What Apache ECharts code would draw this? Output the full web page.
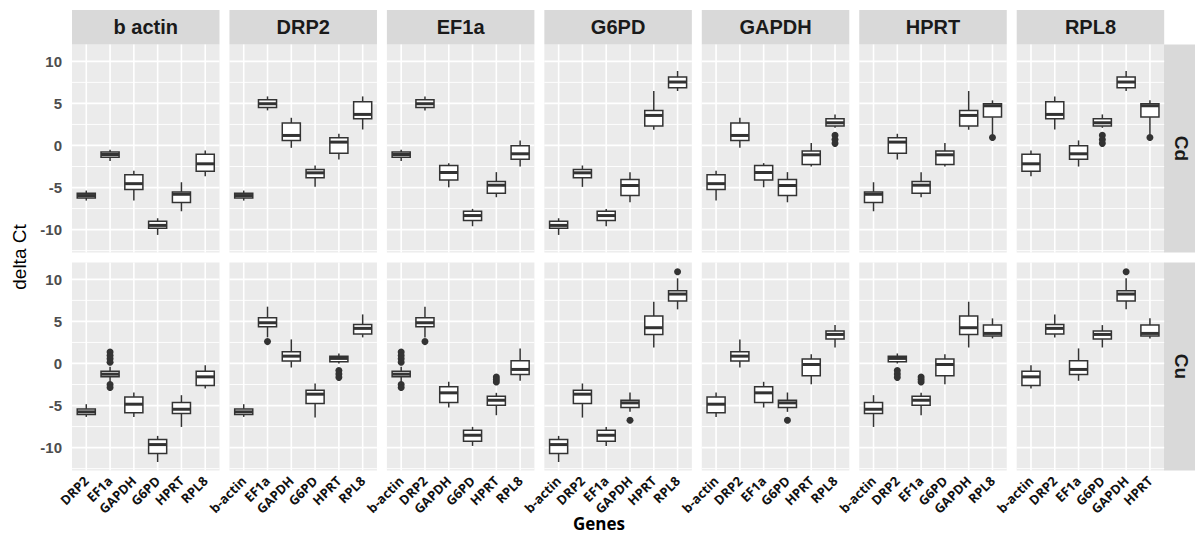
<!DOCTYPE html>
<html>
<head>
<meta charset="utf-8">
<script src="https://cdn.jsdelivr.net/npm/echarts@6/dist/echarts.min.js"></script>
<style>
  html, body { margin: 0; padding: 0; background: #fff; }
  #chart { width: 1195px; height: 533px; }
</style>
</head>
<body>
<div id="chart"></div>
<script>
// Facet titles (columns = reference gene, rows = treatment)
const panelTitles = ['b actin', 'DRP2', 'EF1a', 'G6PD', 'GAPDH', 'HPRT', 'RPL8'];
const rowTitles = ['Cd', 'Cu'];

// Genes on the x axis of each column
const xCategories = [
  ['DRP2', 'EF1a', 'GAPDH', 'G6PD', 'HPRT', 'RPL8'],
  ['b-actin', 'EF1a', 'GAPDH', 'G6PD', 'HPRT', 'RPL8'],
  ['b-actin', 'DRP2', 'GAPDH', 'G6PD', 'HPRT', 'RPL8'],
  ['b-actin', 'DRP2', 'EF1a', 'GAPDH', 'HPRT', 'RPL8'],
  ['b-actin', 'DRP2', 'EF1a', 'G6PD', 'HPRT', 'RPL8'],
  ['b-actin', 'DRP2', 'EF1a', 'G6PD', 'GAPDH', 'RPL8'],
  ['b-actin', 'DRP2', 'EF1a', 'G6PD', 'GAPDH', 'HPRT']
];

// Box statistics per column: [lower whisker, Q1, median, Q3, upper whisker]
const cdBoxes = [
  [[-6.55, -6.23, -5.95, -5.67, -5.36], [-1.85, -1.39, -1.07, -0.79, -0.5], [-6.55, -5.22, -4.54, -3.47, -3.0],
   [-10.63, -9.84, -9.5, -9.0, -8.65], [-7.82, -6.79, -5.8, -5.52, -4.37], [-3.65, -3.06, -2.18, -1.03, -0.6]],
  [[-6.55, -6.23, -5.95, -5.67, -5.36], [4.17, 4.5, 4.96, 5.44, 5.83], [-0.28, 0.6, 1.19, 2.66, 3.29],
   [-4.92, -3.85, -3.25, -2.86, -2.38], [-1.67, -0.91, 0.4, 0.91, 1.39], [1.9, 3.17, 3.69, 5.2, 5.83]],
  [[-1.85, -1.39, -1.07, -0.79, -0.5], [4.17, 4.5, 4.96, 5.44, 5.83], [-4.96, -4.09, -3.21, -2.38, -2.1],
   [-9.6, -8.93, -8.33, -7.82, -7.54], [-6.15, -5.67, -4.72, -4.29, -3.17], [-2.5, -1.63, -0.99, -0.04, 0.6]],
  [[-10.63, -9.84, -9.5, -9.0, -8.65], [-4.92, -3.85, -3.25, -2.86, -2.38], [-9.6, -8.93, -8.33, -7.82, -7.54],
   [-6.75, -5.95, -4.76, -4.05, -3.17], [1.87, 2.3, 3.57, 4.17, 6.47], [6.47, 6.87, 7.54, 8.13, 8.85]],
  [[-6.55, -5.22, -4.54, -3.47, -3.0], [-0.28, 0.6, 1.19, 2.66, 3.29], [-4.96, -4.09, -3.21, -2.38, -2.1],
   [-6.75, -5.95, -4.76, -4.05, -3.17], [-2.5, -2.26, -1.11, -0.67, 0.28], [2.1, 2.3, 2.7, 3.17, 3.69]],
  [[-7.82, -6.79, -5.8, -5.52, -4.37], [-1.67, -0.91, 0.4, 0.91, 1.39], [-6.15, -5.67, -4.72, -4.29, -3.17],
   [-2.5, -2.26, -1.11, -0.67, 0.28], [1.87, 2.3, 3.57, 4.17, 6.47], [1.15, 3.37, 4.72, 4.96, 5.36]],
  [[-3.65, -3.06, -2.18, -1.03, -0.6], [1.9, 3.17, 3.69, 5.2, 5.83], [-2.5, -1.63, -0.99, -0.04, 0.6],
   [2.1, 2.3, 2.7, 3.17, 3.69], [6.47, 6.87, 7.54, 8.13, 8.85], [1.15, 3.37, 4.72, 4.96, 5.36]]
];

const cuBoxes = [
  [[-6.35, -6.07, -5.75, -5.4, -4.84], [-2.2, -1.59, -1.27, -0.91, -0.4], [-6.35, -5.87, -4.84, -3.97, -3.45],
   [-11.71, -10.71, -9.64, -9.05, -8.61], [-7.54, -5.95, -5.44, -4.64, -3.77], [-2.98, -2.62, -1.59, -0.91, -0.2]],
  [[-6.35, -6.07, -5.75, -5.4, -4.84], [3.1, 4.37, 4.84, 5.44, 6.75], [-0.48, 0.28, 0.87, 1.39, 2.86],
   [-6.43, -4.76, -3.65, -3.17, -2.38], [0.0, 0.2, 0.6, 0.87, 1.19], [3.1, 3.49, 4.17, 4.64, 5.83]],
  [[-2.2, -1.59, -1.27, -0.91, -0.4], [3.1, 4.37, 4.84, 5.44, 6.75], [-5.24, -4.64, -3.49, -2.78, -2.18],
   [-9.8, -9.25, -8.53, -7.94, -7.54], [-6.15, -4.96, -4.37, -3.89, -3.49], [-2.06, -1.31, -0.71, 0.32, 1.79]],
  [[-11.71, -10.71, -9.64, -9.05, -8.61], [-6.43, -4.76, -3.65, -3.17, -2.38], [-9.8, -9.25, -8.53, -7.94, -7.54],
   [-5.75, -5.24, -4.68, -4.37, -3.45], [1.9, 3.45, 4.25, 5.63, 7.34], [6.43, 7.42, 8.25, 8.65, 10.12]],
  [[-6.35, -5.87, -4.84, -3.97, -3.45], [-0.48, 0.28, 0.87, 1.39, 2.86], [-5.24, -4.64, -3.49, -2.78, -2.18],
   [-5.75, -5.24, -4.68, -4.37, -3.45], [-2.46, -1.47, -0.12, 0.52, 1.11], [1.9, 2.9, 3.45, 3.85, 4.56]],
  [[-7.54, -5.95, -5.44, -4.64, -3.77], [0.0, 0.2, 0.6, 0.87, 1.19], [-6.15, -4.96, -4.37, -3.89, -3.49],
   [-2.46, -1.47, -0.12, 0.52, 1.11], [1.9, 3.45, 4.25, 5.63, 7.34], [2.98, 3.25, 3.57, 4.56, 5.36]],
  [[-2.98, -2.62, -1.59, -0.91, -0.2], [3.1, 3.49, 4.17, 4.64, 5.83], [-2.06, -1.31, -0.71, 0.32, 1.79],
   [1.9, 2.9, 3.45, 3.85, 4.56], [6.43, 7.42, 8.25, 8.65, 10.12], [2.98, 3.25, 3.57, 4.56, 5.36]]
];

// Outlying points per column: [category index, value]
const cdOutliers = [
  [],
  [],
  [],
  [],
  [[5, 1.2], [5, 0.7], [5, 0.25]],
  [[5, 0.95]],
  [[3, 1.2], [3, 0.7], [3, 0.25], [5, 0.95]]
];
const cuOutliers = [
  [[1, 1.35], [1, 0.95], [1, 0.55], [1, 0.15], [1, -2.5], [1, -2.85]],
  [[1, 2.6], [4, -0.85], [4, -1.25], [4, -1.65]],
  [[0, 1.35], [0, 0.95], [0, 0.55], [0, 0.15], [0, -2.5], [0, -2.85], [1, 2.6], [4, -1.6], [4, -1.9], [4, -2.2]],
  [[3, -6.75], [5, 10.91]],
  [[3, -6.75]],
  [[1, -0.85], [1, -1.25], [1, -1.65], [2, -1.6], [2, -1.9], [2, -2.2]],
  [[4, 10.91]]
];

// y scale shared by all panels
const yRange = [-12.72, 12];
const yMajorTicks = [-10, -5, 0, 5, 10];
const yMinorTicks = [-12.5, -7.5, -2.5, 2.5, 7.5];

// Panel layout (px)
const PANEL_LEFT = 72, PANEL_STEP = 157.45, PANEL_W = 147.5, PANEL_H = 208;
const ROW_TOPS = [44.5, 262.5];
const STRIP_TOP = 10, STRIP_H = 34.5;
const RIGHT_STRIP_X = 1164;

const INK = '#333333';
const BG = '#ebebeb';
const STRIP_BG = '#d9d9d9';

const chart = echarts.init(document.getElementById('chart'), null, { renderer: 'svg' });

const grids = [], xAxes = [], yAxes = [], series = [];

function makeGridRenderer(nCats) {
  return function (params, api) {
    const cs = params.coordSys;
    const x0 = cs.x, x1 = cs.x + cs.width, y0 = cs.y, y1 = cs.y + cs.height;
    const children = [];
    yMinorTicks.forEach(function (v) {
      const y = api.coord([0, v])[1];
      children.push({ type: 'line', shape: { x1: x0, y1: y, x2: x1, y2: y }, style: { stroke: '#fff', lineWidth: 0.9 } });
    });
    yMajorTicks.forEach(function (v) {
      const y = api.coord([0, v])[1];
      children.push({ type: 'line', shape: { x1: x0, y1: y, x2: x1, y2: y }, style: { stroke: '#fff', lineWidth: 1.8 } });
    });
    for (let i = 0; i < nCats; i++) {
      const x = api.coord([i, 0])[0];
      children.push({ type: 'line', shape: { x1: x, y1: y0, x2: x, y2: y1 }, style: { stroke: '#fff', lineWidth: 1.6 } });
    }
    return { type: 'group', children: children };
  };
}

function renderBox(params, api) {
  const x = api.value(0);
  const lo = api.coord([x, api.value(1)]);
  const q1 = api.coord([x, api.value(2)]);
  const md = api.coord([x, api.value(3)]);
  const q3 = api.coord([x, api.value(4)]);
  const hi = api.coord([x, api.value(5)]);
  const half = api.size([0.76, 0])[0] / 2;
  const line = { stroke: INK, lineWidth: 1.5 };
  return {
    type: 'group',
    children: [
      { type: 'line', shape: { x1: hi[0], y1: hi[1], x2: q3[0], y2: q3[1] }, style: line },
      { type: 'line', shape: { x1: q1[0], y1: q1[1], x2: lo[0], y2: lo[1] }, style: line },
      { type: 'rect', shape: { x: q3[0] - half, y: q3[1], width: half * 2, height: q1[1] - q3[1] },
        style: { fill: '#fff', stroke: INK, lineWidth: 1.5 } },
      { type: 'line', shape: { x1: md[0] - half, y1: md[1], x2: md[0] + half, y2: md[1] },
        style: { stroke: INK, lineWidth: 3 } }
    ]
  };
}

const graphics = [];

rowTitles.forEach(function (rowName, r) {
  const boxes = r === 0 ? cdBoxes : cuBoxes;
  const outliers = r === 0 ? cdOutliers : cuOutliers;
  panelTitles.forEach(function (title, c) {
    const k = grids.length;
    const cats = xCategories[c];
    grids.push({
      left: PANEL_LEFT + c * PANEL_STEP, top: ROW_TOPS[r], width: PANEL_W, height: PANEL_H,
      show: true, backgroundColor: BG, borderWidth: 0, containLabel: false, outerBoundsMode: 'none'
    });
    xAxes.push({
      type: 'value', gridIndex: k, min: -0.6, max: cats.length - 0.4, splitNumber: 6,
      axisLine: { show: false }, axisTick: { show: false }, splitLine: { show: false },
      axisLabel: {
        show: r === 1, rotate: 45, margin: 8, padding: [9, 0, 0, 0],
        fontFamily: 'Open Sans', fontWeight: 'bold', fontSize: 13, color: '#111',
        showMinLabel: false, showMaxLabel: false,
        formatter: function (v) {
          const i = Math.round(v);
          return Math.abs(v - i) < 1e-6 && i >= 0 && i < cats.length ? cats[i] : '';
        }
      }
    });
    yAxes.push({
      type: 'value', gridIndex: k, min: yRange[0], max: yRange[1], splitNumber: 5,
      axisLine: { show: false }, axisTick: { show: false }, splitLine: { show: false },
      axisLabel: {
        show: c === 0, margin: 10, fontFamily: 'Liberation Sans', fontWeight: 'bold', fontSize: 15, color: '#4d4d4d',
        showMinLabel: false, showMaxLabel: false,
        formatter: function (v) { return yMajorTicks.indexOf(v) >= 0 ? String(v) : ''; }
      }
    });
    series.push({
      type: 'custom', xAxisIndex: k, yAxisIndex: k, silent: true, z: 1,
      renderItem: makeGridRenderer(cats.length), data: [[0, 0]]
    });
    series.push({
      type: 'custom', xAxisIndex: k, yAxisIndex: k, silent: true, z: 3,
      renderItem: renderBox,
      encode: { x: 0, y: [1, 2, 3, 4, 5] },
      data: boxes[c].map(function (b, i) { return [i].concat(b); })
    });
    series.push({
      type: 'scatter', xAxisIndex: k, yAxisIndex: k, silent: true, z: 4,
      symbolSize: 7, itemStyle: { color: INK, opacity: 1 },
      data: outliers[c]
    });

    if (r === 0) {
      const sx = PANEL_LEFT + c * PANEL_STEP;
      graphics.push({ type: 'rect', shape: { x: sx, y: STRIP_TOP, width: PANEL_W, height: STRIP_H }, style: { fill: STRIP_BG } });
      graphics.push({
        type: 'text', x: sx + PANEL_W / 2, y: STRIP_TOP + STRIP_H / 2,
        style: { text: title, fontFamily: 'Liberation Sans', fontWeight: 'bold', fontSize: 20, fill: '#1a1a1a',
                 textAlign: 'center', textVerticalAlign: 'middle' }
      });
    }
  });
  // treatment strip on the right
  graphics.push({ type: 'rect', shape: { x: RIGHT_STRIP_X, y: ROW_TOPS[r], width: 1195 - RIGHT_STRIP_X, height: PANEL_H }, style: { fill: STRIP_BG } });
  graphics.push({
    type: 'text', x: RIGHT_STRIP_X + 17, y: ROW_TOPS[r] + PANEL_H / 2, rotation: -Math.PI / 2,
    style: { text: rowName, fontFamily: 'Liberation Sans', fontWeight: 'bold', fontSize: 19, fill: '#1a1a1a',
             textAlign: 'center', textVerticalAlign: 'middle' }
  });
});

// axis titles
graphics.push({
  type: 'text', x: 19, y: 257, rotation: Math.PI / 2,
  style: { text: 'delta Ct', fontFamily: 'Liberation Sans', fontSize: 19, fill: '#000',
           textAlign: 'center', textVerticalAlign: 'middle' }
});
graphics.push({
  type: 'text', x: 599, y: 523,
  style: { text: 'Genes', fontFamily: 'Open Sans', fontWeight: 'bold', fontSize: 17, fill: '#000',
           textAlign: 'center', textVerticalAlign: 'middle' }
});

chart.setOption({
  animation: false,
  backgroundColor: '#fff',
  grid: grids,
  xAxis: xAxes,
  yAxis: yAxes,
  series: series,
  graphic: graphics
});
</script>
</body>
</html>
